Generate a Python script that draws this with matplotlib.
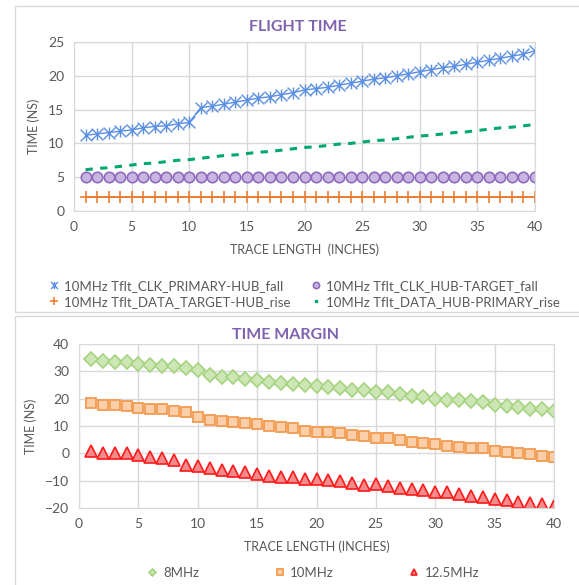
import matplotlib
matplotlib.use("Agg")
import matplotlib.pyplot as plt
from matplotlib.path import Path
from matplotlib.patches import Rectangle
from matplotlib.lines import Line2D

plt.rcParams["font.family"] = ["Lato", "DejaVu Sans"]

# ---- data ----
trace_len = list(range(1, 41))

clk_primary_hub_fall = [
    11.2, 11.4, 11.6, 11.8, 12.0, 12.3, 12.5, 12.6, 12.9, 13.1,
    15.3, 15.5, 15.8, 16.1, 16.4, 16.7, 16.9, 17.2, 17.5, 17.9,
    18.1, 18.3, 18.6, 18.9, 19.2, 19.5, 19.7, 20.0, 20.3, 20.6,
    20.9, 21.2, 21.4, 21.7, 22.0, 22.3, 22.6, 22.9, 23.2, 23.7,
]
clk_hub_target_fall = [5.0] * 40
data_target_hub_rise = [2.0] * 40
data_hub_primary_rise = [
    6.1, 6.3, 6.4, 6.6, 6.8, 7.0, 7.1, 7.3, 7.5, 7.6,
    7.8, 8.0, 8.2, 8.3, 8.5, 8.7, 8.8, 9.0, 9.2, 9.4,
    9.5, 9.7, 9.9, 10.0, 10.2, 10.4, 10.5, 10.7, 10.9, 11.1,
    11.2, 11.4, 11.6, 11.7, 11.9, 12.1, 12.3, 12.4, 12.6, 12.8,
]

margin_8mhz = [
    34.5, 33.6, 33.3, 33.3, 32.8, 32.4, 31.8, 31.8, 31.2, 30.6,
    28.7, 28.1, 27.8, 27.1, 26.7, 26.2, 25.7, 25.3, 25.1, 24.8,
    24.1, 23.8, 23.0, 23.0, 22.6, 22.3, 21.6, 21.0, 20.5, 19.8,
    19.6, 19.6, 19.0, 18.6, 17.7, 17.5, 17.1, 16.3, 16.1, 15.6,
]
margin_10mhz = [
    18.3, 17.7, 17.7, 17.4, 16.7, 16.3, 16.3, 15.6, 15.3, 13.2,
    12.1, 12.0, 11.6, 11.0, 10.6, 10.0, 9.5, 9.2, 8.3, 7.9,
    7.9, 7.3, 6.7, 6.3, 5.7, 5.5, 4.9, 4.3, 3.6, 3.4,
    2.7, 2.2, 1.8, 1.8, 1.0, 0.6, 0.2, -0.4, -0.9, -1.2,
]
margin_12_5mhz = [
    0.9, 0.3, 0.0, 0.0, -0.6, -1.2, -1.7, -2.3, -4.2, -4.8,
    -5.4, -6.0, -6.4, -7.0, -7.6, -8.2, -8.8, -8.8, -9.4, -9.4,
    -9.8, -10.3, -10.9, -11.5, -11.3, -11.9, -12.5, -12.9, -13.4, -14.0,
    -14.3, -15.0, -15.6, -15.9, -16.8, -17.0, -17.7, -18.0, -18.6, -19.2,
]

top_labels = [
    "10MHz Tflt_CLK_PRIMARY-HUB_fall",
    "10MHz Tflt_CLK_HUB-TARGET_fall",
    "10MHz Tflt_DATA_TARGET-HUB_rise",
    "10MHz Tflt_DATA_HUB-PRIMARY_rise",
]
bottom_labels = ["8MHz", "10MHz", "12.5MHz"]

# ---- style ----
grid_c = "#d9d9d9"
text_c = "#595959"
title_c = "#7f63b0"

# asterisk-like star marker (X plus vertical bar)
star = Path(
    [(0, -1), (0, 1), (-1, -1), (1, 1), (-1, 1), (1, -1)],
    [Path.MOVETO, Path.LINETO, Path.MOVETO, Path.LINETO, Path.MOVETO, Path.LINETO],
)


def style_axes(ax, ylim, yticks):
    ax.set_xlim(0, 40)
    ax.set_xticks(range(0, 41, 5))
    ax.set_ylim(*ylim)
    ax.set_yticks(yticks)
    ax.grid(True, color=grid_c, lw=1)
    ax.set_axisbelow(True)
    for s in ax.spines.values():
        s.set_color(grid_c)
    ax.tick_params(length=0, colors=text_c, labelsize=10, pad=7)


fig = plt.figure(figsize=(5.79, 5.85), dpi=100)

# panel frames
fig.patches.append(Rectangle((15 / 579, 1 - 312 / 585), 600 / 579, 306 / 585,
                             transform=fig.transFigure, fill=False, ec=grid_c, lw=1))
fig.patches.append(Rectangle((15 / 579, -0.05), 600 / 579, 1 - 316 / 585 + 0.05,
                             transform=fig.transFigure, fill=False, ec=grid_c, lw=1))

# ---- Flight time ----
ax1 = fig.add_axes([74 / 579, 1 - 211 / 585, 461 / 579, 169 / 585])
style_axes(ax1, (0, 25), range(0, 26, 5))

ax1.plot(trace_len, clk_primary_hub_fall, color="#5a8fe3", lw=1,
         marker=star, ms=8.5, mew=1.0)
ax1.plot(trace_len, clk_hub_target_fall, ls="none", marker="o", ms=7.5,
         mfc="#c9b6e0", mec="#8e6bbe", mew=1.2)
ax1.plot(trace_len, data_target_hub_rise, color="#ed7d31", lw=1.2,
         marker="+", ms=9, mew=1.2)
ax1.plot(trace_len, data_hub_primary_rise, color="#00a870", lw=2.2,
         ls=(0, (2.4, 2.4)))

ax1.set_ylabel("TIME (NS)", color=text_c, fontsize=9, labelpad=6)
ax1.set_xlabel("TRACE LENGTH  (INCHES)", color=text_c, fontsize=9, labelpad=8)
fig.text(298 / 579, 1 - 27 / 585, "FLIGHT TIME", color=title_c, fontsize=11.5,
         fontweight="bold", ha="center", va="center")

# legend shows markers only
h_a = Line2D([], [], ls="none", marker=star, ms=5, mew=1.0, color="#5a8fe3")
h_b = Line2D([], [], ls="none", marker="o", ms=4.5, mfc="#c9b6e0", mec="#8e6bbe", mew=1.2)
h_c = Line2D([], [], ls="none", marker="+", ms=6, mew=1.2, color="#ed7d31")
h_d = Line2D([], [], ls="none", marker="s", ms=2, color="#00a870")
leg1 = fig.legend([h_a, h_c, h_b, h_d],
                  [top_labels[0], top_labels[2], top_labels[1], top_labels[3]],
                  ncol=2, loc="upper left", bbox_to_anchor=(43 / 579, 1 - 273 / 585),
                  frameon=False, fontsize=9.5, handlelength=0.6,
                  handletextpad=0.5, columnspacing=1.6, labelspacing=0.3, borderpad=0)
for t in leg1.get_texts():
    t.set_color(text_c)

# ---- Time margin ----
ax2 = fig.add_axes([79 / 579, 1 - 508 / 585, 475 / 579, 164 / 585])
style_axes(ax2, (-20, 40), range(-20, 41, 10))

ax2.plot(trace_len, margin_8mhz, ls="none", marker="D", ms=7,
         mfc="#cde6b5", mec="#a5d37f", mew=1.2, label=bottom_labels[0])
ax2.plot(trace_len, margin_10mhz, ls="none", marker="s", ms=7.5,
         mfc="#fbcfaa", mec="#f29b50", mew=1.3, label=bottom_labels[1])
ax2.plot(trace_len, margin_12_5mhz, ls="none", marker="^", ms=9,
         mfc="#f28b8b", mec="#ff1a1a", mew=1.2, label=bottom_labels[2])

ax2.set_ylabel("TIME (NS)", color=text_c, fontsize=9, labelpad=6)
ax2.set_xlabel("TRACE LENGTH (INCHES)", color=text_c, fontsize=9, labelpad=8)
fig.text(285 / 579, 1 - 335 / 585, "TIME MARGIN", color=title_c, fontsize=11.5,
         fontweight="bold", ha="center", va="center")

leg2 = fig.legend(loc="center", bbox_to_anchor=(314 / 579, 1 - 573 / 585), ncol=3,
                  frameon=False, fontsize=9.5, markerscale=0.5, handlelength=0.6,
                  handletextpad=0.5, columnspacing=5.8, borderpad=0,
                  handles=ax2.get_lines())
for t in leg2.get_texts():
    t.set_color(text_c)

fig.savefig("out.png", dpi=100)
